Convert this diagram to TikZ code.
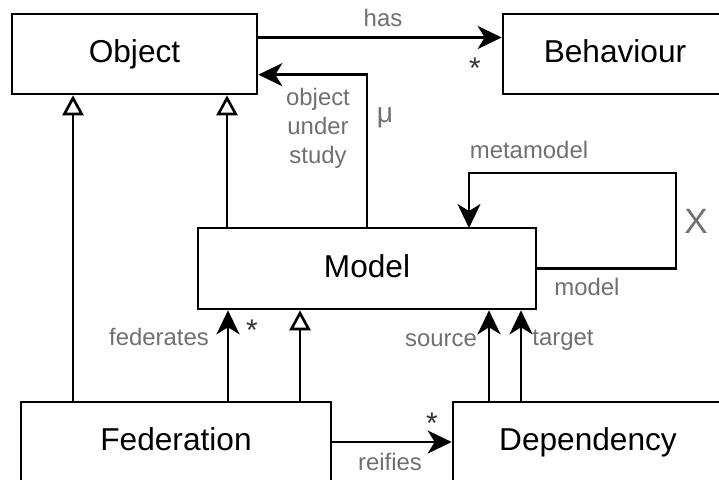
\documentclass[tikz,border=0pt]{standalone}
\usepackage{fontspec}
\setmainfont{Liberation Sans}
\usepackage{xcolor}
\usetikzlibrary{arrows.meta,calc}
\definecolor{labelgray}{HTML}{707070}
\definecolor{stargray}{HTML}{333333}

\begin{document}
\begin{tikzpicture}[
    classbox/.style={rectangle, draw, line width=1.5pt, minimum height=1.6cm, inner sep=0pt, text height=13.5pt, text depth=3.3pt, font=\fontsize{18}{21}\selectfont},
    assoc/.style={-{Stealth[length=0.48cm, width=0.46cm, inset=0.14cm]}, line width=1.5pt},
    inherit/.style={-{Triangle[open, length=0.4cm, width=0.42cm, fill=white]}, line width=1.5pt},
    rolelabel/.style={font=\fontsize{13.6}{16.5}\selectfont, text=labelgray, inner sep=0pt, align=center},
    mult/.style={font=\fontsize{17}{20}\selectfont, text=stargray, inner sep=0pt}
]
\useasboundingbox (0,0) rectangle (14.38,-9.58);
\clip (0,0) rectangle (14.38,-9.58);

% Classes
\node[classbox, minimum width=4.9cm] (object) at (2.69,-1.08) {Object};
\node[classbox, minimum width=4.48cm] (behaviour) at (12.3,-1.08) {Behaviour};
\node[classbox, minimum width=6.76cm, minimum height=1.62cm] (model) at (7.34,-5.37) {Model};
\node[classbox, minimum width=6.2cm] (federation) at (3.52,-8.84) {Federation};
\node[classbox, minimum width=5.4cm] (dependency) at (11.76,-8.84) {Dependency};

% Connector feet
\coordinate (fedgen) at (1.46,-8.04);
\coordinate (modelgen) at (4.54,-4.56);
\coordinate (fedmodel) at (4.56,-8.04);
\coordinate (fedsub) at (6.0,-8.04);
\coordinate (src) at (9.78,-8.04);
\coordinate (tgt) at (10.42,-8.04);
\coordinate (loop) at (13.52,-3.46);
\coordinate (metain) at (9.38,-4.56);

% Arrows
\draw[assoc] ($(object.north east)!0.3!(object.south east)$) -- ($(behaviour.north west)!0.3!(behaviour.south west)$);
\draw[assoc] (model.north) |- ($(object.north east)!0.75!(object.south east)$);
\draw[assoc] (model.east) -| (loop) -| (metain);
\draw[inherit] (fedgen) -- (fedgen |- object.south);
\draw[inherit] (modelgen) -- (modelgen |- object.south);
\draw[assoc] (fedmodel) -- (fedmodel |- model.south);
\draw[inherit] (fedsub) -- (fedsub |- model.south);
\draw[assoc] (src) -- (src |- model.south);
\draw[assoc] (tgt) -- (tgt |- model.south);
\draw[assoc] (federation.east) -- (dependency.west);

% Role labels
\node[rolelabel] (haslbl) at (7.66,-0.36) {has};
\node[rolelabel] (studylbl) at (6.36,-2.56) {object\\under\\study};
\node[rolelabel, font=\fontsize{16}{19}\selectfont] (mulbl) at (7.7,-2.36) {μ};
\node[rolelabel, font=\fontsize{20}{24}\selectfont] (chilbl) at (13.92,-4.42) {X};
\node[rolelabel] (metalbl) at (10.58,-3.0) {metamodel};
\node[rolelabel] (modellbl) at (11.74,-5.74) {model};
\node[rolelabel] (fedlbl) at (3.18,-6.74) {federates};
\node[rolelabel] (srclbl) at (8.82,-6.8) {source};
\node[rolelabel] (tgtlbl) at (11.26,-6.8) {target};
\node[rolelabel] (reiflbl) at (7.8,-9.24) {reifies};

% Multiplicities
\node[mult] (hasmult) at (9.5,-1.36) {*};
\node[mult] (fedmult) at (5.04,-6.6) {*};
\node[mult] (reifmult) at (8.64,-8.47) {*};

\end{tikzpicture}
\end{document}
